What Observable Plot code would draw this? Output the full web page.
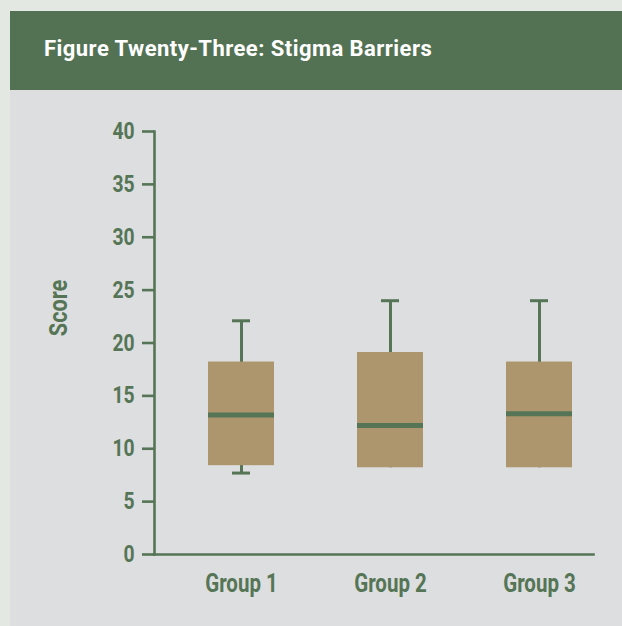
<!DOCTYPE html>
<html>
<head>
<meta charset="utf-8">
<script src="https://cdn.jsdelivr.net/npm/d3@7"></script>
<script src="https://cdn.jsdelivr.net/npm/@observablehq/plot@0.6"></script>
<style>
  html, body { margin: 0; padding: 0; }
  body { width: 622px; height: 626px; background: #e3e8e3; position: relative; overflow: hidden;
         font-family: Roboto, sans-serif; font-weight: bold; }
  #panel { position: absolute; left: 10px; top: 11px; width: 612px; height: 615px; background: #dcdedf; }
  #header { height: 79px; background: #537254; position: relative; }
  #title { position: absolute; left: 34px; top: 27px; color: #ffffff; font-size: 22px; line-height: 22px;
           letter-spacing: 0.45px; white-space: nowrap; }
  #chart { position: absolute; left: 0; top: 79px; }
</style>
</head>
<body>
<div id="panel">
  <div id="header"><span id="title">Figure Twenty-Three: Stigma Barriers</span></div>
  <div id="chart"></div>
</div>
<script>
const groups = ["Group 1", "Group 2", "Group 3"];
const minValues = [7.7, 8.2, 8.2];
const q1Values = [8.4, 8.2, 8.2];
const medianValues = [13.2, 12.2, 13.3];
const q3Values = [18.2, 19.1, 18.2];
const maxValues = [22.1, 24.0, 24.0];
const yTicks = [0, 5, 10, 15, 20, 25, 30, 35, 40];
const yLabel = "Score";

const rows = groups.map((g, i) => ({
  group: g, min: minValues[i], q1: q1Values[i], median: medianValues[i], q3: q3Values[i], max: maxValues[i]
}));

const green = "#557556";
const tan = "#ad966e";

const chart = Plot.plot({
  width: 612,
  height: 536,
  marginTop: 41,
  marginBottom: 72,
  marginLeft: 144,
  marginRight: 29,
  style: { background: "transparent", fontFamily: "Roboto, sans-serif", fontWeight: "bold", fontSize: "23px", color: green, overflow: "visible" },
  x: { type: "band", domain: groups, range: [156.5, 603.5], paddingInner: 0.557, paddingOuter: 0.2785, align: 0.5 },
  y: { domain: [0, 40] },
  marks: [
    Plot.axisY({ ticks: yTicks, tickSize: 12, tickPadding: 8, stroke: green, strokeWidth: 2.6, fill: green, label: null, fontSize: 23.5 }),
    Plot.axisX({ tickSize: 0, tickPadding: 20, fill: green, label: null, fontSize: 25 }),
    Plot.text([yLabel], { frameAnchor: "left", rotate: -90, textAnchor: "middle", dx: -95.7, dy: -35, fill: green, fontSize: 26.5, fontWeight: "bold" }),
    Plot.ruleX(rows, { x: "group", y1: "min", y2: "max", stroke: green, strokeWidth: 3 }),
    Plot.tickY(rows, { x: "group", y: "max", stroke: green, strokeWidth: 3, insetLeft: 24, insetRight: 24 }),
    Plot.tickY(rows.filter(d => d.min < d.q1), { x: "group", y: "min", stroke: green, strokeWidth: 3, insetLeft: 24, insetRight: 24 }),
    Plot.barY(rows, { x: "group", y1: "q1", y2: "q3", fill: tan }),
    Plot.tickY(rows, { x: "group", y: "median", stroke: green, strokeWidth: 5 }),
    Plot.frame({ anchor: "left", stroke: green, strokeWidth: 2.6 }),
    Plot.frame({ anchor: "bottom", stroke: green, strokeWidth: 2.6 })
  ]
});

document.getElementById("chart").appendChild(chart);

// condense the chart's lettering horizontally to match the narrow display face
chart.querySelectorAll("text").forEach(t => {
  const len = t.getComputedTextLength();
  if (len > 0) {
    t.setAttribute("textLength", (len * 0.82).toFixed(2));
    t.setAttribute("lengthAdjust", "spacingAndGlyphs");
  }
});
</script>
</body>
</html>
